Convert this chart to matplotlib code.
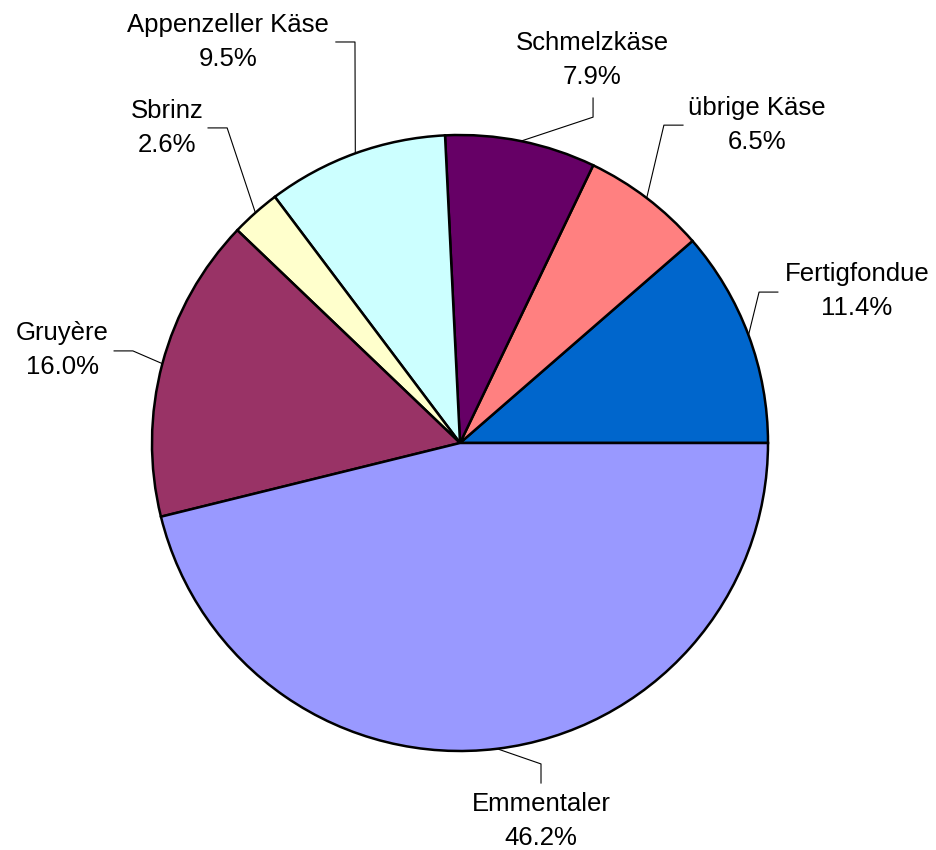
import matplotlib.pyplot as plt
import numpy as np

# cheese shares, counterclockwise from 3 o'clock
labels = ["Fertigfondue", "übrige Käse", "Schmelzkäse", "Appenzeller Käse",
          "Sbrinz", "Gruyère", "Emmentaler"]
shares = [11.4, 6.5, 7.9, 9.5, 2.6, 16.0, 46.2]
colors = ["#0066CC", "#FF8080", "#660066", "#CCFFFF", "#FFFFCC", "#993366", "#9999FF"]

# label layout (units of pie radius): text centre, elbow, line end
text_pos = [(1.289, 0.494), (0.964, 1.032), (0.429, 1.244), (-0.753, 1.302),
            (-0.950, 1.023), (-1.292, 0.302), (0.263, -1.227)]
elbow = [(0.971, 0.490), (0.662, 1.032), (0.432, 1.058), (-0.341, 1.302),
         (-0.756, 1.023), (-1.062, 0.299), (0.263, -1.042)]
line_end = [(1.032, 0.490), (0.724, 1.032), (0.432, 1.120), (-0.403, 1.302),
            (-0.818, 1.023), (-1.123, 0.299), (0.263, -1.104)]

plt.rcParams['font.family'] = ['Liberation Sans', 'DejaVu Sans']

fig = plt.figure(figsize=(9.36, 8.5), dpi=100)
ax = fig.add_axes([0, 0, 1, 1])

wedges, _ = ax.pie(shares, colors=colors, startangle=0, counterclock=True, radius=1,
                   wedgeprops=dict(edgecolor='black', linewidth=1.8))

for w, lab, s, tp, el, le in zip(wedges, labels, shares, text_pos, elbow, line_end):
    mid = np.deg2rad((w.theta1 + w.theta2) / 2)
    ax.plot([np.cos(mid), el[0], le[0]], [np.sin(mid), el[1], le[1]],
            color='black', linewidth=0.8, zorder=0)
    ax.text(tp[0], tp[1], f"{lab}\n{s:.1f}%", ha='center', va='center',
            fontsize=18.5, linespacing=1.55)

ax.set_aspect('equal')
ax.set_xlim(-460 / 308, 476 / 308)
ax.set_ylim(-407 / 308, 443 / 308)
ax.axis('off')

fig.savefig("out.png", dpi=100)
